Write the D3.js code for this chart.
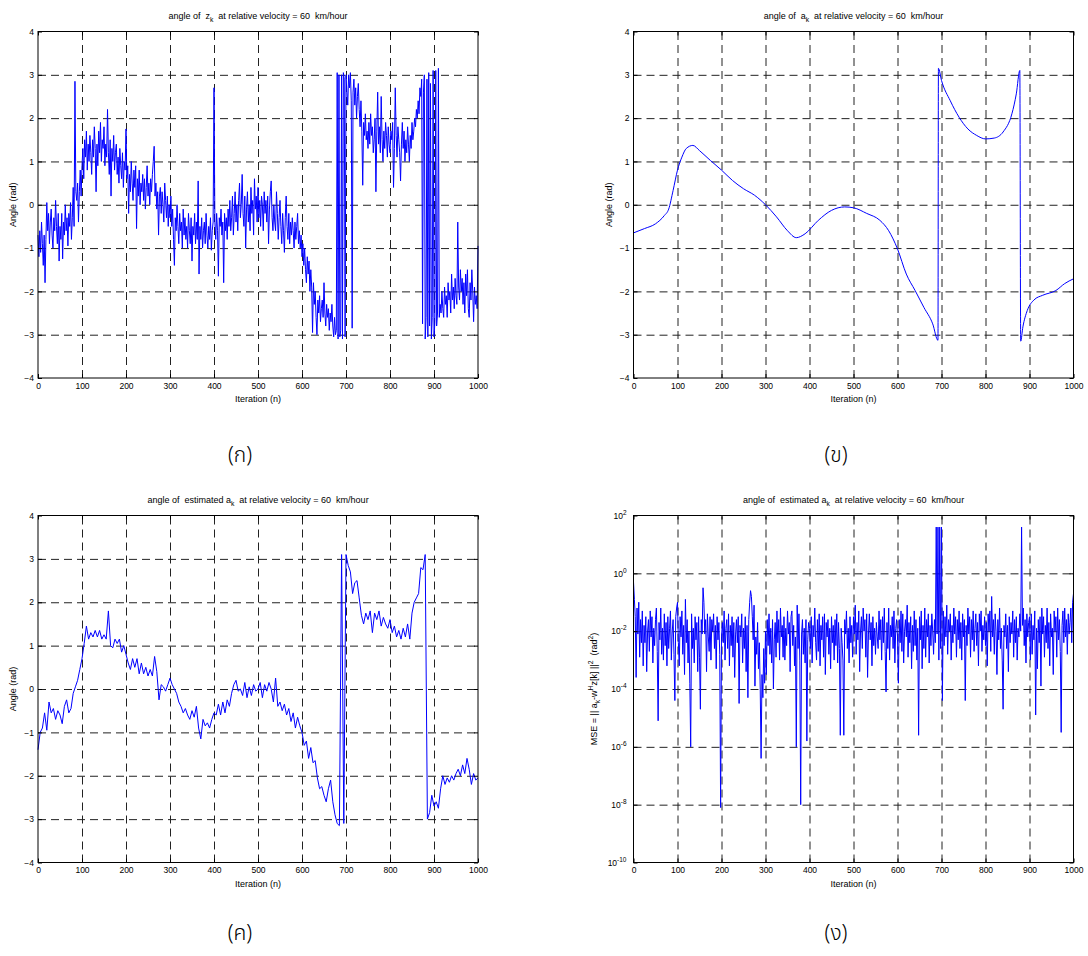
<!DOCTYPE html>
<html>
<head>
<meta charset="utf-8">
<title>angle plots</title>
<script src="https://d3js.org/d3.v7.min.js"></script>
<style>
  body { margin: 0; background: #fff; }
  svg text { font-family: "Liberation Sans", Arial, sans-serif; fill: #000; white-space: pre; }
  .tick text { font-size: 8.5px; }
  .grid line { stroke: #222; stroke-width: 1; stroke-dasharray: 8, 5; }
  .grid .domain { display: none; }
  .ax .domain { display: none; }
  .ax line { stroke: #000; }
  .thai { font-family: "Noto Sans Thai", "Noto Sans", Tahoma, "DejaVu Sans", sans-serif; font-size: 21px; font-weight: 300; }
</style>
</head>
<body>
<svg width="1088" height="956"></svg>
<script>
// iteration axes (samples every 2nd / 5th iteration)
var iterFine = d3.range(0, 1001, 2);
var iterCoarse = d3.range(0, 1001, 5);
var iterTicks = [0, 100, 200, 300, 400, 500, 600, 700, 800, 900, 1000];
var angleTicks = [-4, -3, -2, -1, 0, 1, 2, 3, 4];
var mseTickExp = [-10, -8, -6, -4, -2, 0, 2];

// (ก) angle of z_k, every 2nd iteration
var zAngle = [
  -0.7, -1.2, -0.6, -1.1, -0.4, -0.9, -1.4, -0.7, -1.8, -0.8,
  0.05, -0.6, -0.2, -0.9, -0.4, -0.1, -0.7, -1.0, -0.3, -0.6,
  0.1, -0.5, -0.9, -0.2, -1.3, -0.5, -0.8, -0.2, -1.25, -0.4,
  -0.7, 0.0, -0.6, -0.3, -0.95, -0.2, -0.5, 0.05, -0.8, -0.3,
  0.4, -0.5, 2.85, 0.3, 0.1, 0.5, -0.4, 0.3, 0.8, 0.2,
  0.9, 1.3, 0.6, 1.5, 1.1, 1.7, 0.8, 1.4, 1.0, 1.6,
  1.2, 0.7, 1.5, 1.1, 1.8, 1.3, 0.3, 1.4, 0.9, 1.7,
  1.2, 1.9, 1.0, 1.5, 1.3, 1.8, 0.9, 1.4, 1.1, 2.2,
  1.2, 0.7, 1.5, 0.2, 1.3, 1.0, 1.6, 0.8, 1.2, 1.4,
  0.7, 1.1, 0.5, 1.3, 0.9, 0.6, 1.2, 0.4, 1.0, 0.8,
  1.75, 0.6, 0.9, -0.2, 0.7, 0.3, 1.0, 0.5, 0.1, 0.8,
  0.4, 0.9, -0.55, 0.6, 0.2, 0.8, 0.0, 0.5, 0.3, 0.7,
  0.1, 0.6, -0.1, 0.4, 0.9, 0.2, 0.5, 0.0, 0.6, 0.3,
  0.7, 1.0, 1.35, 0.2, 0.5, -0.1, 0.3, -0.7, 0.2, 0.4,
  -0.2, 0.3, 0.0, -0.4, 0.5, 0.1, -0.3, 0.2, -0.5, 0.0,
  -0.3, 0.2, -0.5, -0.1, -0.8, -1.4, -0.3, -0.6, 0.0, -0.5,
  -0.9, -0.2, -0.6, -0.4, -1.0, -0.1, -0.7, -0.3, -0.8, -0.5,
  -1.0, -0.2, -0.6, -0.9, -0.3, -1.3, -0.5, -0.7, -0.2, -0.9,
  -0.4, -0.8, 0.55, -1.6, -0.5, -0.8, -0.3, -1.0, -0.6, -0.4,
  -0.9, -0.2, -0.7, -1.0, -0.5, -0.8, -0.3, -1.05, -0.6, -0.4,
  2.7, -0.4, -0.8, -0.2, -0.6, -1.65, -0.3, -0.5, -0.1, -0.7,
  -0.4, -1.8, -0.2, -0.6, -0.3, -0.8, -0.1, -0.5, 0.1, -0.6,
  -0.3, 0.2, -0.7, -0.2, 0.3, -0.4, 0.0, -0.6, 0.1, 0.5,
  -0.3, 0.0, 0.7, -0.2, -0.5, 0.2, -1.0, -0.1, 0.3, -0.4,
  0.0, -0.6, 0.4, -0.2, 0.1, -0.7, 0.6, -0.1, 0.2, -0.4,
  0.4, -0.3, 0.1, -0.5, 0.2, 0.0, -0.6, 0.3, -0.2, 0.1,
  -0.4, 0.2, -0.9, -0.1, 0.3, 0.55, -0.3, -0.6, 0.0, -0.4,
  -0.6, 0.3, -0.2, -0.8, -0.3, 0.1, -0.5, -0.9, -0.2, -0.6,
  -1.1, -0.3, 0.2, -0.5, -0.8, -0.2, -0.9, -0.4, -0.7, -0.3,
  -0.6, -1.0, -0.4, -0.8, -0.5, -0.2, -0.9, -0.6, -1.0, -0.7,
  -1.2, -0.9, -1.4, -1.0, -1.5, -1.8, -1.2, -1.6, -1.3, -2.0,
  -1.5, -1.9, -2.95, -1.8, -2.3, -2.0, -2.6, -3.0, -2.2, -2.5,
  -2.1, -2.7, -2.4, -2.2, -2.6, -1.8, -2.5, -2.8, -2.3, -2.6,
  -2.4, -2.9, -2.5, -2.7, -2.3, -2.8, -3.05, -2.6, -3.0, -2.9,
  3.05, -3.1, 3.0, -3.05, -2.9, 3.0, -3.1, 3.05, 2.9, -3.05,
  3.0, 2.6, 2.3, 3.0, 2.7, 3.05, 2.4, -2.85, 2.6, 2.9,
  2.3, 2.7, 2.0, 2.5, 2.8, 2.2, 1.8, 2.4, 1.7, 0.45,
  1.9, 1.6, 2.1, 1.5, 1.7, 1.3, 1.9, 1.4, 2.1, 1.6,
  1.8, 1.2, 1.5, 2.0, 0.3, 1.7, 2.6, 1.4, 1.8, 1.2,
  2.5, 1.5, 1.0, 1.7, 1.3, 1.9, 1.6, 1.1, 1.8, 1.4,
  1.2, 1.7, 1.5, 1.9, 0.4, 1.3, 2.7, 1.6, 1.1, 1.8,
  1.5, 1.2, 0.55, 1.4, 1.9, 1.3, 1.7, 1.0, 1.5, 1.2,
  1.8, 1.4, 1.0, 1.6, 1.3, 1.9, 1.5, 1.7, 2.0, 1.8,
  2.2, 2.0, 2.4, 2.1, 2.7, 2.5, 2.9, -2.75, 2.6, 3.0,
  -3.1, -2.6, 2.9, -3.05, 3.05, -2.8, 2.8, -3.1, -2.6, 3.1,
  -3.05, -2.7, 3.1, -2.8, -2.5, 3.15, -2.6, -2.3, -2.5, -2.0,
  -2.4, -2.6, -1.9, -2.3, -2.1, -2.6, -1.8, -2.2, -2.0, -2.5,
  -1.6, -2.2, -1.9, -2.4, -1.7, -2.1, -2.3, -0.4, -1.9, -2.2,
  -1.5, -2.0, -1.7, -2.3, -1.8, -2.5, -1.6, -2.1, -1.5, -2.4,
  -2.6, -1.8, -2.2, -1.5, -2.0, -2.7, -1.9, -2.3, -2.1, -2.4,
  -0.95
];

// (ข) angle of a_k (smooth, sampled at uneven iterations)
var aIter = [0, 25, 50, 70, 80, 90, 100, 110, 120, 135, 150, 175, 200, 225, 250, 275, 300, 325, 350, 370,
  390, 420, 450, 480, 500, 530, 560, 580, 600, 620, 640, 660, 680, 692, 693, 700, 720, 740, 760, 780,
  800, 820, 840, 860, 870, 878, 880, 885, 895, 910, 930, 960, 980, 1000];
var aAngle = [-0.65, -0.55, -0.44, -0.25, -0.1, 0.33, 0.8, 1.1, 1.3, 1.37, 1.25, 1.02, 0.8, 0.56, 0.37, 0.22, 0.0, -0.28, -0.6, -0.76,
  -0.67, -0.36, -0.13, -0.05, -0.07, -0.2, -0.36, -0.6, -1.02, -1.6, -1.98, -2.37, -2.75, -3.13, 3.15, 2.87, 2.4, 2.02, 1.75, 1.6,
  1.52, 1.54, 1.68, 2.1, 2.56, 3.1, -3.15, -2.82, -2.44, -2.2, -2.09, -1.98, -1.82, -1.71];

// (ค) angle of estimated a_k, every 5th iteration
var estAngle = [
  -1.4, -1.0, -0.9, -0.55, -0.95, -0.3, -0.55, -0.45, -0.7, -0.5, -0.6, -0.8, -0.4, -0.25, -0.55, -0.45, -0.1, 0.05, 0.2, 0.45,
  0.7, 1.05, 1.45, 1.15, 1.3, 1.2, 1.35, 1.2, 1.35, 1.15, 1.25, 1.15, 1.8, 1.0, 0.95, 1.15, 1.05, 1.15, 0.85, 1.0,
  0.8, 0.6, 0.45, 0.7, 0.5, 0.7, 0.35, 0.6, 0.35, 0.5, 0.3, 0.45, 0.3, 0.75, 0.4, -0.25, 0.1, 0.05, -0.05, 0.1,
  0.25, 0.1, 0.0, -0.1, -0.3, -0.4, -0.55, -0.45, -0.6, -0.7, -0.5, -0.65, -0.4, -0.9, -1.15, -0.7, -0.85, -0.78, -0.9, -0.7,
  -0.55, -0.6, -0.35, -0.6, -0.3, -0.55, -0.25, -0.4, -0.1, 0.1, 0.2, -0.05, 0.0, -0.15, 0.15, -0.2, 0.05, -0.15, 0.1, -0.05,
  0.0, 0.15, -0.2, 0.1, -0.05, 0.15, 0.0, -0.3, 0.25, -0.4, -0.3, -0.5, -0.35, -0.6, -0.45, -0.75, -0.55, -0.9, -0.65, -0.85,
  -1.0, -1.3, -1.2, -1.6, -1.35, -1.7, -1.65, -2.05, -2.3, -2.25, -2.45, -2.6, -2.3, -2.1, -2.6, -2.9, -3.1, -3.15, 3.1, -3.1,
  3.1, 2.85, 2.7, 2.2, 2.45, 2.5, 2.1, 1.7, 1.5, 1.75, 1.6, 1.8, 1.3, 1.75, 1.6, 1.8, 1.45, 1.65, 1.5, 1.4,
  1.6, 1.3, 1.45, 1.2, 1.35, 1.15, 1.4, 1.2, 1.5, 1.15, 1.75, 2.0, 2.1, 2.2, 2.8, 2.75, 3.1, -3.0, -2.85, -2.45,
  -2.7, -2.6, -2.75, -2.3, -2.0, -2.2, -2.05, -2.15, -2.0, -2.1, -1.95, -1.85, -2.0, -1.75, -1.95, -1.6, -1.85, -2.2, -1.95, -2.1,
  -2.05
];

// (ง) MSE as log10 of the value, every 2nd iteration
var mseLog10 = [
  -0.3, -0.9, -1.5, -3.6, -1.2, -2.1, -1.0, -2.9, -1.6, -2.4,
  -1.3, -3.2, -1.8, -2.4, -1.5, -3.4, -2.0, -1.6, -2.7, -1.3,
  -2.2, -1.5, -3.1, -1.9, -2.5, -1.6, -1.2, -2.7, -5.1, -1.7,
  -2.3, -1.2, -2.8, -1.9, -3.0, -1.4, -2.5, -1.7, -3.2, -1.5,
  -2.6, -1.9, -1.3, -3.0, -2.0, -1.6, -2.8, -4.4, -1.5, -1.2,
  -1.0, -2.4, -3.2, -1.5, -2.2, -1.3, -2.8, -1.8, -3.5, -0.9,
  -2.4, -1.6, -3.1, -2.0, -3.8, -6.0, -1.4, -2.6, -1.9, -3.1,
  -1.5, -2.3, -1.7, -3.4, -1.5, -2.9, -4.7, -1.6, -2.1, -0.5,
  -1.0, -2.1, -1.6, -3.4, -1.4, -2.2, -2.7, -1.5, -3.0, -1.6,
  -2.0, -1.4, -2.6, -1.8, -3.3, -1.5, -2.3, -1.7, -2.8, -8.1,
  -2.2, -1.7, -2.4, -1.3, -3.0, -1.9, -1.6, -2.6, -1.4, -3.2,
  -1.8, -2.5, -1.5, -2.9, -1.7, -3.6, -2.1, -1.6, -2.4, -1.5,
  -4.5, -1.8, -2.2, -1.4, -3.1, -1.9, -2.6, -1.5, -3.4, -1.8,
  -4.3, -1.6, -1.0, -0.6, -0.8, -1.5, -2.3, -1.1, -3.9, -2.2,
  -2.8, -1.7, -3.3, -2.4, -4.0, -6.4, -3.5, -4.3, -2.6, -3.8,
  -2.0, -3.5, -1.6, -2.5, -1.4, -2.8, -1.9, -3.1, -1.6, -4.0,
  -2.3, -1.7, -2.9, -1.3, -2.4, -1.6, -3.0, -1.2, -2.2, -1.8,
  -2.9, -1.5, -3.0, -1.9, -2.5, -1.3, -2.1, -1.7, -3.4, -1.5,
  -1.3, -2.5, -1.8, -3.2, -2.2, -6.0, -1.1, -2.6, -1.4, -3.0,
  -8.0, -2.1, -1.6, -2.8, -1.9, -3.1, -1.6, -5.8, -2.3, -1.7,
  -1.9, -2.6, -1.5, -3.1, -1.8, -2.2, -1.2, -2.4, -3.0, -1.6,
  -2.7, -1.4, -3.2, -1.8, -2.3, -1.5, -2.9, -1.4, -3.5, -1.7,
  -2.2, -1.6, -2.8, -1.9, -3.3, -1.5, -2.4, -1.8, -3.0, -1.6,
  -2.5, -1.4, -3.1, -1.7, -2.6, -5.6, -1.9, -2.4, -3.0, -5.6,
  -1.6, -2.1, -1.3, -2.6, -1.9, -3.1, -1.5, -2.4, -1.8, -2.9,
  -1.5, -2.1, -1.1, -2.8, -1.7, -2.3, -1.3, -3.4, -2.0, -1.5,
  -2.6, -1.2, -2.0, -1.6, -2.9, -1.4, -3.6, -2.1, -1.4, -2.3,
  -1.7, -3.2, -1.5, -2.5, -1.9, -2.8, -1.7, -2.2, -2.6, -1.3,
  -2.3, -1.6, -3.0, -1.5, -2.4, -1.2, -2.7, -4.1, -1.7, -2.6,
  -1.2, -3.0, -1.8, -2.2, -1.5, -2.6, -1.3, -3.1, -1.9, -1.6,
  -2.2, -3.8, -1.6, -2.4, -1.3, -2.7, -1.4, -3.1, -2.0, -1.6,
  -2.2, -1.1, -2.9, -1.7, -2.4, -1.5, -3.3, -1.8, -2.7, -1.3,
  -2.5, -1.6, -3.0, -1.9, -5.6, -1.5, -2.3, -1.3, -3.3, -1.8,
  -2.6, -1.2, -2.9, -1.6, -2.2, -1.4, -3.1, -1.8, -2.5, -1.4,
  -2.0, -2.8, -1.6, -2.4, 1.6, -2.1, 1.6, -3.0, 1.6, -2.6,
  1.6, -4.4, -1.3, -2.5, -1.5, -2.2, -1.1, -2.8, -1.6, -2.0,
  -1.4, -3.0, -1.8, -2.4, -1.2, -2.1, -1.5, -2.9, -1.6, -2.3,
  -1.3, -2.6, -1.7, -3.0, -1.4, -2.2, -1.6, -4.4, -1.8, -2.5,
  -1.2, -2.1, -1.5, -2.9, -1.6, -2.3, -1.3, -2.7, -1.9, -1.4,
  -2.5, -1.7, -3.2, -1.4, -2.0, -1.3, -2.7, -1.8, -2.3, -1.5,
  -2.5, -1.7, -3.2, -1.4, -2.0, -1.3, -2.7, -0.8, -2.2, -1.6,
  -2.8, -1.4, -2.0, -3.5, -1.6, -2.3, -1.2, -2.6, -1.9, -3.0,
  -4.7, -1.8, -2.2, -1.4, -2.6, -1.8, -3.4, -1.5, -2.4, -1.7,
  -2.1, -1.3, -2.9, -1.6, -2.4, -1.5, -3.0, -1.9, -2.2, -1.4,
  -2.0, 1.6, -1.8, -1.2, -2.5, -1.6, -3.1, -1.4, -2.2, -1.7,
  -1.5, -3.0, -1.4, -2.8, -1.8, -2.3, -1.3, -4.9, -1.9, -3.3,
  -1.6, -2.4, -1.5, -3.9, -1.2, -2.1, -1.5, -2.9, -1.8, -2.4,
  -1.2, -2.6, -1.7, -3.2, -1.4, -2.2, -1.9, -3.5, -1.3, -2.0,
  -1.5, -2.9, -1.2, -2.3, -1.6, -2.7, -5.5, -1.8, -1.3, -2.4,
  -1.2, -2.2, -1.6, -2.8, -1.4, -2.1, -1.7, -1.2, -2.4, -1.0,
  -0.7
];

var svg = d3.select("svg");

var titleZ = [{ t: "angle of  z" }, { t: "k", sub: true }, { t: "  at relative velocity = 60  km/hour" }];
var titleA = [{ t: "angle of  a" }, { t: "k", sub: true }, { t: "  at relative velocity = 60  km/hour" }];
var titleEst = [{ t: "angle of  estimated a" }, { t: "k", sub: true }, { t: "  at relative velocity = 60  km/hour" }];
var mseLabel = [{ t: "MSE = || a" }, { t: "k", sub: true }, { t: "-w" }, { t: "H", sup: true }, { t: "z[k] ||" },
  { t: "2", sup: true }, { t: "  (rad" }, { t: "2", sup: true }, { t: ")" }];
var angleLabel = [{ t: "Angle (rad)" }];

// write text with sub/superscripts as tspans
function richText(sel, parts, size) {
  var shift = 0;
  parts.forEach(function (p) {
    var target = p.sub ? 3 : (p.sup ? -4 : 0);
    sel.append("tspan")
      .attr("dy", target - shift)
      .attr("font-size", (p.sub || p.sup) ? size * 0.75 : size)
      .text(p.t);
    shift = target;
  });
}

function drawPanel(cfg) {
  var g = svg.append("g");
  var x = d3.scaleLinear().domain([0, 1000]).range([cfg.x0, cfg.x1]);
  var y = cfg.log
    ? d3.scaleLog().domain([1e-10, 1e2]).range([cfg.y1, cfg.y0])
    : d3.scaleLinear().domain([-4, 4]).range([cfg.y1, cfg.y0]);
  var h = cfg.y1 - cfg.y0, w = cfg.x1 - cfg.x0;
  var yTickVals = cfg.log ? mseTickExp.map(function (e) { return Math.pow(10, e); }) : angleTicks;

  // dashed grid
  g.append("g").attr("class", "grid")
    .attr("transform", "translate(0," + cfg.y1 + ")")
    .call(d3.axisBottom(x).tickValues(iterTicks.slice(1, -1)).tickSize(-h).tickFormat(""));
  g.append("g").attr("class", "grid")
    .attr("transform", "translate(" + cfg.x0 + ",0)")
    .call(d3.axisLeft(y).tickValues(yTickVals.slice(1, -1)).tickSize(-w).tickFormat(""));

  // data line
  var line = d3.line()
    .x(function (d) { return x(d[0]); })
    .y(function (d) { return y(d[1]); });
  if (cfg.curve) line.curve(cfg.curve);
  g.append("path")
    .datum(cfg.points)
    .attr("fill", "none")
    .attr("stroke", "#0000ff")
    .attr("stroke-width", 1)
    .attr("d", line);

  // axes with inward ticks
  g.append("g").attr("class", "ax")
    .attr("transform", "translate(0," + cfg.y1 + ")")
    .call(d3.axisBottom(x).tickValues(iterTicks).tickSizeInner(-4).tickSizeOuter(0).tickPadding(4.5)
      .tickFormat(d3.format("d")));
  g.append("g").attr("class", "ax")
    .attr("transform", "translate(0," + cfg.y0 + ")")
    .call(d3.axisTop(x).tickValues(iterTicks).tickSizeInner(-4).tickSizeOuter(0).tickFormat(""));
  g.append("g").attr("class", "ax")
    .attr("transform", "translate(" + cfg.x1 + ",0)")
    .call(d3.axisRight(y).tickValues(yTickVals).tickSizeInner(-4).tickSizeOuter(0).tickFormat(""));
  var ya = g.append("g").attr("class", "ax")
    .attr("transform", "translate(" + cfg.x0 + ",0)")
    .call(d3.axisLeft(y).tickValues(yTickVals).tickSizeInner(-4).tickSizeOuter(0).tickPadding(4)
      .tickFormat(cfg.log ? function () { return ""; } : d3.format("d")));
  if (cfg.log) {
    ya.selectAll(".tick text").each(function (d) {
      var t = d3.select(this).attr("x", -7);
      t.append("tspan").attr("font-size", 8.5).text("10");
      t.append("tspan").attr("font-size", 6.5).attr("dy", -4).text(String(Math.round(Math.log10(d))));
    });
  }

  // frame
  g.append("rect")
    .attr("x", cfg.x0).attr("y", cfg.y0).attr("width", w).attr("height", h)
    .attr("fill", "none").attr("stroke", "#000").attr("stroke-width", 1);

  // title and labels
  var title = g.append("text")
    .attr("x", (cfg.x0 + cfg.x1) / 2).attr("y", cfg.y0 - 13)
    .attr("text-anchor", "middle");
  richText(title, cfg.title, 9);

  g.append("text")
    .attr("x", (cfg.x0 + cfg.x1) / 2).attr("y", cfg.y1 + 24)
    .attr("text-anchor", "middle").attr("font-size", 9)
    .text("Iteration (n)");

  var yl = g.append("text")
    .attr("transform", "translate(" + (cfg.x0 - cfg.ylabOff) + "," + ((cfg.y0 + cfg.y1) / 2) + ") rotate(-90)")
    .attr("text-anchor", "middle");
  richText(yl, cfg.ylabel, 9);

  svg.append("text")
    .attr("class", "thai")
    .attr("x", cfg.capX).attr("y", cfg.capY)
    .attr("text-anchor", "middle")
    .text(cfg.caption);
}

drawPanel({
  x0: 38, x1: 478, y0: 31.5, y1: 378, ylabOff: 22,
  points: iterFine.map(function (n, i) { return [n, zAngle[i]]; }),
  title: titleZ, ylabel: angleLabel, caption: "(ก)", capX: 240, capY: 462
});
drawPanel({
  x0: 633.5, x1: 1073.5, y0: 31.5, y1: 378, ylabOff: 22,
  points: aIter.map(function (n, i) { return [n, aAngle[i]]; }),
  curve: d3.curveMonotoneX,
  title: titleA, ylabel: angleLabel, caption: "(ข)", capX: 836, capY: 462
});
drawPanel({
  x0: 38, x1: 478, y0: 515.5, y1: 862.5, ylabOff: 22,
  points: iterCoarse.map(function (n, i) { return [n, estAngle[i]]; }),
  title: titleEst, ylabel: angleLabel, caption: "(ค)", capX: 240, capY: 940
});
drawPanel({
  x0: 633.5, x1: 1073.5, y0: 515.5, y1: 862.5, ylabOff: 37, log: true,
  points: iterFine.map(function (n, i) { return [n, Math.pow(10, mseLog10[i])]; }),
  title: titleEst, ylabel: mseLabel, caption: "(ง)", capX: 836, capY: 940
});
</script>
</body>
</html>
